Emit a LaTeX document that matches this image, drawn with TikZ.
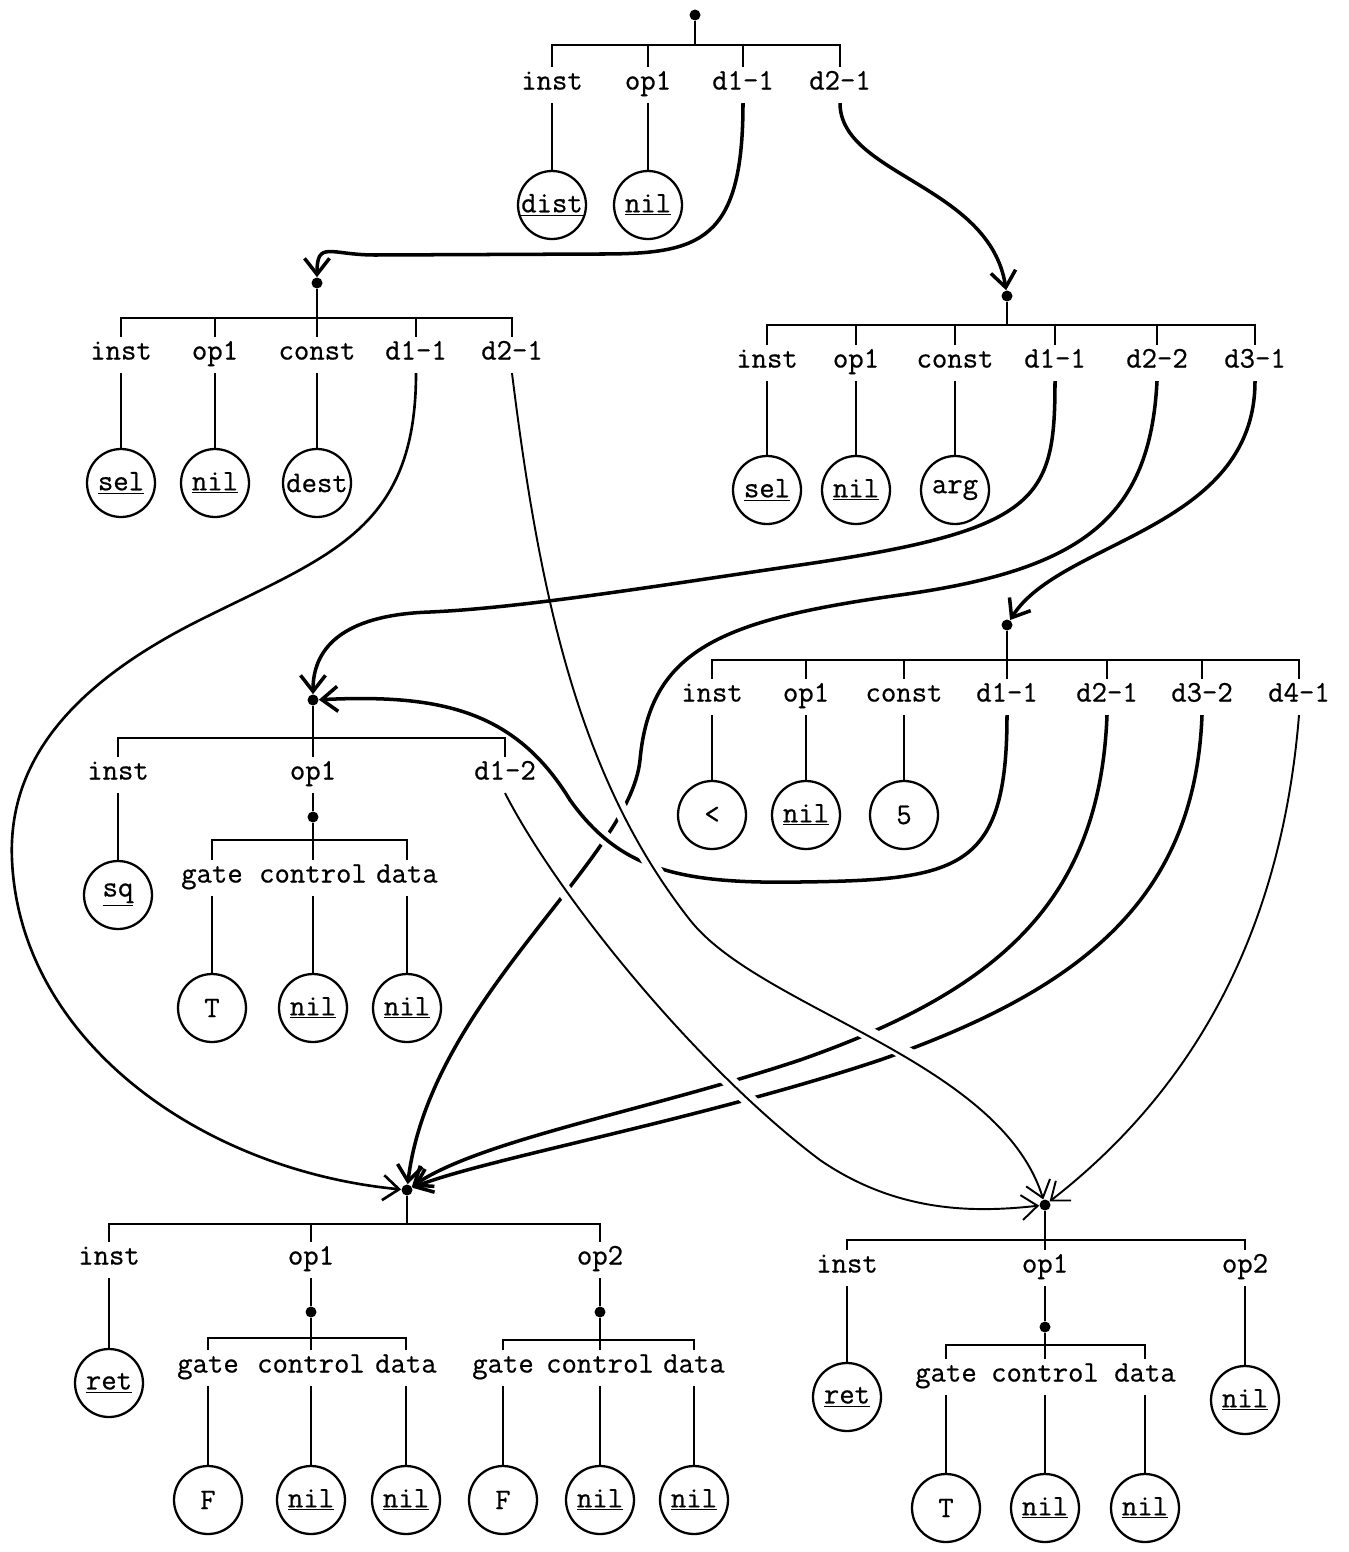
\documentclass[tikz,border=0pt]{standalone}
\usepackage{fontspec}
\setmonofont[FakeBold=0.6]{Latin Modern Mono}
\usepackage{tikz}
\usetikzlibrary{arrows.meta}

\begin{document}
\begin{tikzpicture}[x=0.02cm, y=-0.02cm,
    every node/.style={font=\fontsize{17}{19}\selectfont\ttfamily},
    fld/.style={inner xsep=2pt, inner ysep=6pt, text height=1.55ex, text depth=0.35ex},
    val/.style={circle, draw, line width=1.3pt, minimum size=1.36cm, inner sep=0pt},
    dot/.style={circle, fill, inner sep=0pt, minimum size=0.22cm},
    branch/.style={line width=1.5pt},
    link/.style={line width=2pt, -{Straight Barb[length=0.32cm, width=0.5cm]}},
    thinlink/.style={line width=1.1pt, -{Straight Barb[length=0.32cm, width=0.5cm]}},
    hop/.style={preaction={draw=white, line width=8pt, -, shorten <=0.5cm, shorten >=0.6cm}}]
  \useasboundingbox (0,0) rectangle (1349,1552);

  % dist node
  \node[dot] (dA) at (695,15) {};
  \coordinate (bA) at (695,45);
  \node[fld] (Ainst) at (552,85) {inst};
  \node[fld] (Aop1) at (648,85) {op1};
  \node[fld] (Ad1) at (743,85) {d1-1};
  \node[fld] (Ad2) at (840,85) {d2-1};
  \node[val] (Adist) at (552,205) {\underline{dist}};
  \node[val] (Anil) at (648,205) {\underline{nil}};

  % sel node, dest
  \node[dot] (dB) at (317,283) {};
  \coordinate (bB) at (317,318);
  \node[fld] (Binst) at (121,355) {inst};
  \node[fld] (Bop1) at (215,355) {op1};
  \node[fld] (Bconst) at (317,355) {const};
  \node[fld] (Bd1) at (416,355) {d1-1};
  \node[fld] (Bd2) at (512,355) {d2-1};
  \node[val] (Bsel) at (121,483) {\underline{sel}};
  \node[val] (Bnil) at (215,483) {\underline{nil}};
  \node[val] (Bdest) at (317,483) {dest};

  % sel node, arg
  \node[dot] (dR) at (1007,296) {};
  \coordinate (bR) at (1007,325);
  \node[fld] (Rinst) at (767,363) {inst};
  \node[fld] (Rop1) at (856,363) {op1};
  \node[fld] (Rconst) at (955,363) {const};
  \node[fld] (Rd1) at (1055,363) {d1-1};
  \node[fld] (Rd2) at (1157,363) {d2-2};
  \node[fld] (Rd3) at (1255,363) {d3-1};
  \node[val] (Rsel) at (767,490) {\underline{sel}};
  \node[val] (Rnil) at (856,490) {\underline{nil}};
  \node[val] (Rarg) at (955,490) {arg};

  % sq node
  \node[dot] (dC) at (313,700) {};
  \coordinate (bC) at (313,738);
  \node[fld] (Cinst) at (118,775) {inst};
  \node[fld] (Cop1) at (313,775) {op1};
  \node[fld] (Cd1) at (505,775) {d1-2};
  \node[val] (Csq) at (118,895) {\underline{sq}};
  \node[dot] (dC1) at (313,817) {};
  \coordinate (bC1) at (313,840);
  \node[fld] (Cgate) at (212,878) {gate};
  \node[fld] (Cctl) at (313,878) {control};
  \node[fld] (Cdata) at (407,878) {data};
  \node[val] (CT) at (212,1008) {T};
  \node[val] (Cnil1) at (313,1008) {\underline{nil}};
  \node[val] (Cnil2) at (407,1008) {\underline{nil}};

  % < node
  \node[dot] (dD) at (1007,625) {};
  \coordinate (bD) at (1007,660);
  \node[fld] (Dinst) at (712,697) {inst};
  \node[fld] (Dop1) at (806,697) {op1};
  \node[fld] (Dconst) at (904,697) {const};
  \node[fld] (Dd1) at (1007,697) {d1-1};
  \node[fld] (Dd2) at (1107,697) {d2-1};
  \node[fld] (Dd3) at (1202,697) {d3-2};
  \node[fld] (Dd4) at (1299,697) {d4-1};
  \node[val] (Dlt) at (712,815) {<};
  \node[val] (Dnil) at (806,815) {\underline{nil}};
  \node[val] (Dfive) at (904,815) {5};

  % ret node, F gates
  \node[dot] (dE) at (407,1190) {};
  \coordinate (bE) at (407,1224);
  \node[fld] (Einst) at (109,1260) {inst};
  \node[fld] (Eop1) at (311,1260) {op1};
  \node[fld] (Eop2) at (600,1260) {op2};
  \node[val] (Eret) at (109,1383) {\underline{ret}};
  \node[dot] (dE1) at (311,1312) {};
  \coordinate (bE1) at (311,1338);
  \node[fld] (Egate1) at (208,1368) {gate};
  \node[fld] (Ectl1) at (311,1368) {control};
  \node[fld] (Edata1) at (406,1368) {data};
  \node[val] (EF1) at (208,1500) {F};
  \node[val] (Enil1) at (311,1500) {\underline{nil}};
  \node[val] (Enil2) at (406,1500) {\underline{nil}};
  \node[dot] (dE2) at (600,1312) {};
  \coordinate (bE2) at (600,1340);
  \node[fld] (Egate2) at (503,1368) {gate};
  \node[fld] (Ectl2) at (600,1368) {control};
  \node[fld] (Edata2) at (694,1368) {data};
  \node[val] (EF2) at (503,1500) {F};
  \node[val] (Enil3) at (600,1500) {\underline{nil}};
  \node[val] (Enil4) at (694,1500) {\underline{nil}};

  % ret node, T gate
  \node[dot] (dF) at (1045,1205) {};
  \coordinate (bF) at (1045,1240);
  \node[fld] (Finst) at (847,1268) {inst};
  \node[fld] (Fop1) at (1045,1268) {op1};
  \node[fld] (Fop2) at (1245,1268) {op2};
  \node[val] (Fret) at (847,1397) {\underline{ret}};
  \node[val] (Fnil3) at (1245,1400) {\underline{nil}};
  \node[dot] (dF1) at (1045,1327) {};
  \coordinate (bF1) at (1045,1345);
  \node[fld] (Fgate) at (946,1377) {gate};
  \node[fld] (Fctl) at (1045,1377) {control};
  \node[fld] (Fdata) at (1145,1377) {data};
  \node[val] (FT) at (946,1508) {T};
  \node[val] (Fnil1) at (1045,1508) {\underline{nil}};
  \node[val] (Fnil2) at (1145,1508) {\underline{nil}};

  % destinations, back ones first so the crossings break them
  \draw[link] (Rd2.south) .. controls (1150,520) and (1080,570) .. (900,595)
        .. controls (720,620) and (650,650) .. (640,760)
        .. controls (630,860) and (430,1000) .. (dE);
  \draw[link, hop] (Dd1.south) .. controls (1007,870) and (960,880) .. (800,882)
        .. controls (680,884) and (620,870) .. (570,800)
        .. controls (515,710) and (440,694) .. (dC);
  \draw[link] (Dd2.south) .. controls (1100,900) and (1000,990) .. (800,1060)
        .. controls (650,1110) and (480,1140) .. (dE);
  \draw[link] (Dd3.south) .. controls (1195,900) and (1080,990) .. (880,1060)
        .. controls (700,1120) and (480,1160) .. (dE);
  \draw[thinlink, hop] (Bd2.south) .. controls (540,600) and (580,780) .. (690,920)
        .. controls (760,1009) and (1000,1060) .. (dF);
  \draw[thinlink, hop] (Cd1.south) .. controls (560,900) and (700,1070) .. (820,1160)
        .. controls (900,1215) and (980,1212) .. (dF);
  \draw[link] (Rd1.south) .. controls (1055,500) and (1040,530) .. (800,565)
        .. controls (650,587) and (520,608) .. (430,612)
        .. controls (340,615) and (313,650) .. (dC);
  \draw[link, line width=1.5pt] (Bd1.south) .. controls (416,530) and (330,555) .. (200,620)
        .. controls (60,690) and (8,770) .. (12,860)
        .. controls (20,1040) and (200,1170) .. (dE);
  \draw[thinlink] (Dd4.south) .. controls (1280,950) and (1180,1100) .. (dF);
  \draw[link] (Ad1.south) .. controls (743,242) and (700,254) .. (600,254) -- (375,255)
        .. controls (330,255) and (317,240) .. (dB);
  \draw[link] (Ad2.south) .. controls (840,175) and (990,185) .. (dR);
  \draw[link] (Rd3.south) .. controls (1255,530) and (1060,540) .. (dD);

  % trees
  \draw[branch] (dA) -- (bA) (Ainst.north) |- (bA) -| (Ad2.north);
  \draw[branch] (Aop1.north) -- (Aop1.north |- bA) (Ad1.north) -- (Ad1.north |- bA);
  \draw[branch] (Ainst) -- (Adist) (Aop1) -- (Anil);

  \draw[branch] (dB) -- (bB) (Binst.north) |- (bB) -| (Bd2.north);
  \draw[branch] (Bop1.north) -- (Bop1.north |- bB) (Bconst.north) -- (bB)
        (Bd1.north) -- (Bd1.north |- bB);
  \draw[branch] (Binst) -- (Bsel) (Bop1) -- (Bnil) (Bconst) -- (Bdest);

  \draw[branch] (dR) -- (bR) (Rinst.north) |- (bR) -| (Rd3.north);
  \draw[branch] (Rop1.north) -- (Rop1.north |- bR) (Rconst.north) -- (Rconst.north |- bR)
        (Rd1.north) -- (Rd1.north |- bR) (Rd2.north) -- (Rd2.north |- bR);
  \draw[branch] (Rinst) -- (Rsel) (Rop1) -- (Rnil) (Rconst) -- (Rarg);

  \draw[branch] (dC) -- (bC) (Cinst.north) |- (bC) -| (Cd1.north) (Cop1.north) -- (bC);
  \draw[branch] (Cinst) -- (Csq) (Cop1) -- (dC1) -- (bC1);
  \draw[branch] (Cgate.north) |- (bC1) -| (Cdata.north) (Cctl.north) -- (bC1);
  \draw[branch] (Cgate) -- (CT) (Cctl) -- (Cnil1) (Cdata) -- (Cnil2);

  \draw[branch] (dD) -- (bD) (Dinst.north) |- (bD) -| (Dd4.north);
  \draw[branch] (Dop1.north) -- (Dop1.north |- bD) (Dconst.north) -- (Dconst.north |- bD)
        (Dd1.north) -- (bD) (Dd2.north) -- (Dd2.north |- bD) (Dd3.north) -- (Dd3.north |- bD);
  \draw[branch] (Dinst) -- (Dlt) (Dop1) -- (Dnil) (Dconst) -- (Dfive);

  \draw[branch] (dE) -- (bE) (Einst.north) |- (bE) -| (Eop2.north) (Eop1.north) -- (Eop1.north |- bE);
  \draw[branch] (Einst) -- (Eret) (Eop1) -- (dE1) -- (bE1) (Eop2) -- (dE2) -- (bE2);
  \draw[branch] (Egate1.north) |- (bE1) -| (Edata1.north) (Ectl1.north) -- (bE1);
  \draw[branch] (Egate2.north) |- (bE2) -| (Edata2.north) (Ectl2.north) -- (bE2);
  \draw[branch] (Egate1) -- (EF1) (Ectl1) -- (Enil1) (Edata1) -- (Enil2);
  \draw[branch] (Egate2) -- (EF2) (Ectl2) -- (Enil3) (Edata2) -- (Enil4);

  \draw[branch] (dF) -- (bF) (Finst.north) |- (bF) -| (Fop2.north) (Fop1.north) -- (bF);
  \draw[branch] (Finst) -- (Fret) (Fop2) -- (Fnil3) (Fop1) -- (dF1) -- (bF1);
  \draw[branch] (Fgate.north) |- (bF1) -| (Fdata.north) (Fctl.north) -- (bF1);
  \draw[branch] (Fgate) -- (FT) (Fctl) -- (Fnil1) (Fdata) -- (Fnil2);
\end{tikzpicture}
\end{document}
